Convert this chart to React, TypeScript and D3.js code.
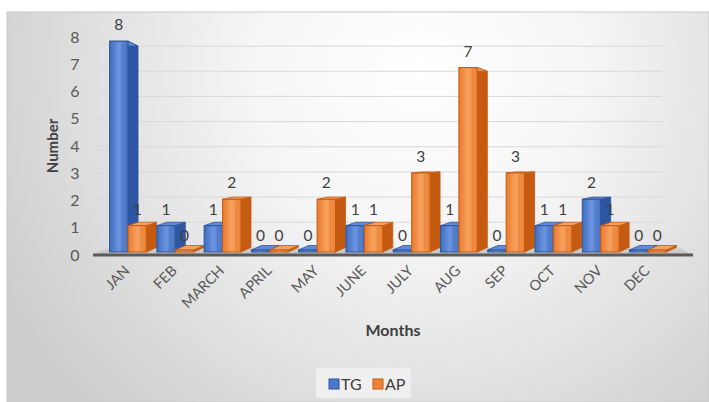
import React from "react";
import * as d3 from "d3";

const months = ["JAN", "FEB", "MARCH", "APRIL", "MAY", "JUNE", "JULY", "AUG", "SEP", "OCT", "NOV", "DEC"];
const tgValues = [8, 1, 1, 0, 0, 1, 0, 1, 0, 1, 2, 0];
const apValues = [1, 0, 2, 0, 2, 1, 3, 7, 3, 1, 1, 0];
const yTicks = [0, 1, 2, 3, 4, 5, 6, 7, 8];
const seriesNames = ["TG", "AP"];

const W = 709;
const H = 402;
const FONT = "Lato, 'Open Sans', sans-serif";

const COLORS = {
  TG: { front: "#4a78cc", light: "#6b95e0", side: "#2e56a3", top: "#5f8bdc", stroke: "#2f5597" },
  AP: { front: "#ee8338", light: "#f6a25f", side: "#c55a11", top: "#f4a264", stroke: "#c55a11" },
};

export default function App() {
  const x = d3.scaleBand<string>().domain(months).range([104.4, 671.6]).padding(0);
  const yBar = d3.scaleLinear().domain([0, 8]).range([252, 41.2]);
  const yLabel = d3.scaleLinear().domain([0, 8]).range([255, 37]);
  const VY = 150;
  const K = 0.955;
  const back = (y: number) => VY + K * (y - VY);
  const DX = 10;
  const bw = x.bandwidth() * 0.39;

  const bars: any[] = [];
  months.forEach((m, i) => {
    const c = (x(m) as number) + x.bandwidth() / 2;
    [
      { name: "TG", v: tgValues[i], x0: c - bw },
      { name: "AP", v: apValues[i], x0: c },
    ].forEach((b) => bars.push({ ...b, m, i }));
  });

  const base = yBar(0);
  const baseBack = back(base);

  const renderBar = (b: any, k: number) => {
    const col = (COLORS as any)[b.name];
    const x0 = b.x0;
    const x1 = b.x0 + bw;
    let yt = yBar(b.v);
    if (b.v === 0) yt = base - 2;
    const ytb = back(yt);
    const gradId = b.name === "TG" ? "gTG" : "gAP";
    return (
      <g key={k}>
        <polygon
          points={`${x1},${yt} ${x1 + DX},${ytb} ${x1 + DX},${baseBack} ${x1},${base}`}
          fill={col.side}
          stroke={col.stroke}
          strokeWidth={0.8}
        />
        <polygon
          points={`${x0},${yt} ${x1},${yt} ${x1 + DX},${ytb} ${x0 + DX},${ytb}`}
          fill={col.top}
          stroke={col.stroke}
          strokeWidth={0.8}
        />
        <rect x={x0} y={yt} width={bw} height={base - yt} fill={`url(#${gradId})`} stroke={col.stroke} strokeWidth={1} />
        {b.v > 0 && (
          <line x1={x0 + bw * 0.72} x2={x0 + bw * 0.72} y1={yt + 2} y2={base - 1} stroke={col.stroke} strokeOpacity={0.35} strokeWidth={0.8} />
        )}
      </g>
    );
  };

  return (
    <svg width={W} height={H} style={{ position: "absolute", left: 0, top: 0 }}>
      <defs>
        <radialGradient id="bg" gradientUnits="userSpaceOnUse" cx={420} cy={70} r={470}>
          <stop offset="0" stopColor="#ffffff" />
          <stop offset="0.35" stopColor="#f6f6f6" />
          <stop offset="1" stopColor="#cdcdcd" />
        </radialGradient>
        <linearGradient id="gTG" x1="0" x2="1" y1="0" y2="0">
          <stop offset="0" stopColor="#3f6cc0" />
          <stop offset="0.5" stopColor={COLORS.TG.light} />
          <stop offset="1" stopColor="#4470c2" />
        </linearGradient>
        <linearGradient id="gAP" x1="0" x2="1" y1="0" y2="0">
          <stop offset="0" stopColor="#ea7a2c" />
          <stop offset="0.5" stopColor={COLORS.AP.light} />
          <stop offset="1" stopColor="#ec7e31" />
        </linearGradient>
        <linearGradient id="floor" x1="0" x2="0" y1="0" y2="1">
          <stop offset="0" stopColor="#d6d6d6" />
          <stop offset="1" stopColor="#bdbdbd" />
        </linearGradient>
      </defs>
      <rect x={0} y={0} width={W} height={H} fill="#ffffff" />
      <rect x={7} y={12} width={W - 7} height={H - 12} fill="url(#bg)" stroke="#c8c8c8" strokeWidth={1} />

      {/* gridlines */}
      {yTicks.slice(1).map((t) => {
        const fy = yBar(t);
        const by = back(fy);
        return (
          <polyline
            key={t}
            points={`95,${yLabel(t)} 109,${by} 662,${by}`}
            fill="none"
            stroke="#d9d9d9"
            strokeWidth={1}
          />
        );
      })}

      {/* floor */}
      <polygon points={`93,${base + 3} 692,${base + 3} 680,${baseBack} 107,${baseBack}`} fill="url(#floor)" />
      <line x1={93} x2={693} y1={base + 3} y2={base + 3} stroke="#5a5a5a" strokeWidth={3} />

      {/* bars */}
      {months.map((m, i) => (
        <g key={m}>
          {bars.filter((b) => b.i === i).map((b, k) => renderBar(b, i * 2 + k))}
        </g>
      ))}

      {/* data labels */}
      {bars.map((b, k) => (
        <text
          key={k}
          x={b.x0 + bw / 2}
          y={yBar(b.v) - 11}
          textAnchor="middle"
          fontFamily={FONT}
          fontSize={15.5}
          fill="#404040"
        >
          {b.v}
        </text>
      ))}

      {/* y tick labels */}
      {yTicks.map((t) => (
        <text
          key={t}
          x={75}
          y={yLabel(t)}
          dy="0.35em"
          textAnchor="middle"
          fontFamily={FONT}
          fontSize={16}
          fill="#595959"
        >
          {t}
        </text>
      ))}

      {/* x labels */}
      {months.map((m) => {
        const c = (x(m) as number) + x.bandwidth() / 2;
        return (
          <text
            key={m}
            transform={`translate(${c - 1},${268}) rotate(-45)`}
            textAnchor="end"
            fontFamily={FONT}
            fontSize={14.5}
            fill="#595959"
            dy="0.35em"
          >
            {m}
          </text>
        );
      })}

      {/* axis titles */}
      <text
        transform={`translate(53,146) rotate(-90)`}
        textAnchor="middle"
        dy="0.35em"
        fontFamily={FONT}
        fontWeight="bold"
        fontSize={15}
        fill="#404040"
      >
        Number
      </text>
      <text x={393} y={330} dy="0.35em" textAnchor="middle" fontFamily={FONT} fontWeight="bold" fontSize={16} fill="#404040">
        Months
      </text>

      {/* legend */}
      <rect x={316} y={368} width={95} height={30} fill="#efefef" />
      {seriesNames.map((s, i) => {
        const lx = i === 0 ? 329 : 373;
        const col = (COLORS as any)[s];
        return (
          <g key={s}>
            <rect x={lx} y={379} width={10} height={10} fill={col.front} stroke={col.stroke} strokeWidth={1} />
            <text x={lx + 12} y={384} dy="0.38em" fontFamily={FONT} fontSize={16} fill="#404040">
              {s}
            </text>
          </g>
        );
      })}
    </svg>
  );
}
